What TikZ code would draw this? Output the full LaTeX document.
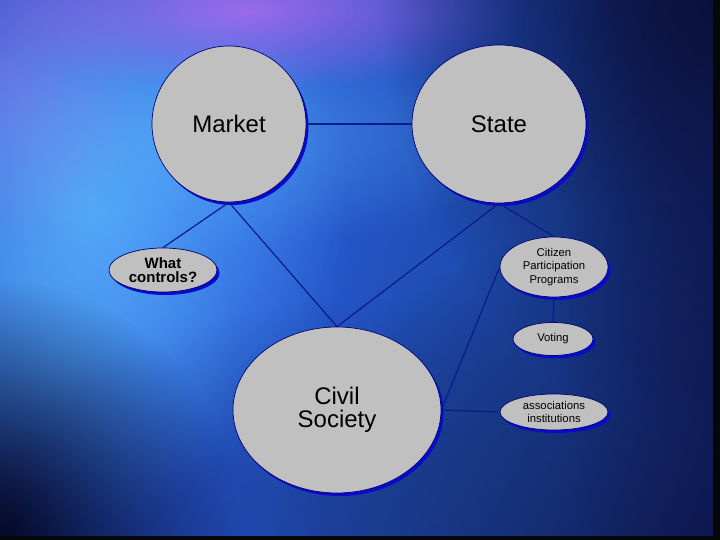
\documentclass[tikz,border=0pt]{standalone}
\usepackage{fontspec}
\setmainfont{Liberation Sans}
\usetikzlibrary{shapes.geometric,shadows,fadings}
\definecolor{bgbase}{RGB}{22,40,125}
\definecolor{cyanglow}{RGB}{95,190,255}
\definecolor{blueglow}{RGB}{45,100,235}
\definecolor{midblue}{RGB}{28,72,160}
\definecolor{purpglow}{RGB}{175,110,240}
\definecolor{navy}{RGB}{6,8,36}
\definecolor{navyb}{RGB}{14,22,75}
\definecolor{tealdark}{RGB}{25,60,130}
\definecolor{edgeblack}{RGB}{4,8,10}
\definecolor{bubfill}{RGB}{192,192,192}
\definecolor{bubedge}{RGB}{0,0,110}
\definecolor{bubshadow}{RGB}{10,10,205}
\definecolor{linkcol}{RGB}{12,26,140}
\tikzfading[name=glow, inner color=transparent!0, outer color=transparent!100]
\tikzset{
  bub/.style={ellipse, draw=bubedge, line width=0.7pt, fill=bubfill, inner sep=0pt, align=center,
    drop shadow={shadow xshift=2.5pt, shadow yshift=-3pt, fill=bubshadow, opacity=1}},
  link/.style={draw=linkcol, line width=1.2pt},
  big/.style={font=\fontsize{24}{28}\selectfont},
  mid/.style={font=\fontsize{24}{23}\selectfont},
  boldq/.style={font=\bfseries\fontsize{15}{14}\selectfont},
  small/.style={font=\fontsize{11.3}{13.5}\selectfont},
}
\begin{document}
\begin{tikzpicture}[x=1pt,y=1pt]
\useasboundingbox (0,0) rectangle (720,540);
% background
\begin{scope}
\clip (0,0) rectangle (720,540);
\fill[bgbase] (0,0) rectangle (720,540);
\fill[blueglow, path fading=glow, opacity=1] (250,300) ellipse (760 and 620);
\fill[blueglow, path fading=glow, opacity=0.6] (200,320) ellipse (500 and 420);
\fill[midblue, path fading=glow, opacity=0.85] (530,220) ellipse (380 and 420);
\fill[cyanglow, path fading=glow, opacity=0.75] (90,330) ellipse (260 and 300);
\fill[cyanglow, path fading=glow, opacity=0.45] (210,410) ellipse (320 and 120);
\fill[cyanglow, path fading=glow, opacity=0.35] (60,190) ellipse (180 and 200);
\fill[purpglow, path fading=glow, opacity=0.85] (250,530) ellipse (280 and 80);
\fill[purpglow, path fading=glow, opacity=0.35] (10,470) ellipse (140 and 180);
\fill[navy, path fading=glow, opacity=1] (740,560) ellipse (360 and 460);
\fill[navyb, path fading=glow, opacity=0.9] (760,260) ellipse (200 and 700);
\fill[navyb, path fading=glow, opacity=1] (730,0) ellipse (460 and 340);
\fill[navy, path fading=glow, opacity=1] (0,0) ellipse (240 and 260);
\fill[tealdark, path fading=glow, opacity=0.5] (380,60) ellipse (380 and 180);
\fill[edgeblack] (713,0) rectangle (720,540);
\fill[edgeblack] (0,0) rectangle (720,4);
\end{scope}
% nodes
\node[bub, big, minimum width=154, minimum height=156] (market) at (229,416) {Market};
\node[bub, big, minimum width=174, minimum height=158] (state) at (499,416) {State};
\node[bub, mid, minimum width=208, minimum height=166] (civil) at (337,130) {Civil\\Society};
\node[bub, boldq, minimum width=108, minimum height=44] (what) at (163,270) {What\\controls?};
\node[bub, small, minimum width=108, minimum height=60] (citizen) at (554,273) {Citizen\\Participation\\Programs};
\node[bub, small, minimum width=80, minimum height=33] (voting) at (553,201) {Voting};
\node[bub, small, minimum width=108, minimum height=36] (assoc) at (554,128) {associations\\institutions};
% links
\draw[link] (market.east) -- (state.west);
\draw[link] (market.south) -- (what.north);
\draw[link] (market.south) -- (civil.north);
\draw[link] (state.south) -- (civil.north);
\draw[link] (state.south) -- (citizen.north);
\draw[link] (citizen.south) -- (voting.north);
\draw[link] (civil.east) -- (assoc.west);
\draw[link] (civil.east) -- (citizen.west);
\end{tikzpicture}
\end{document}
